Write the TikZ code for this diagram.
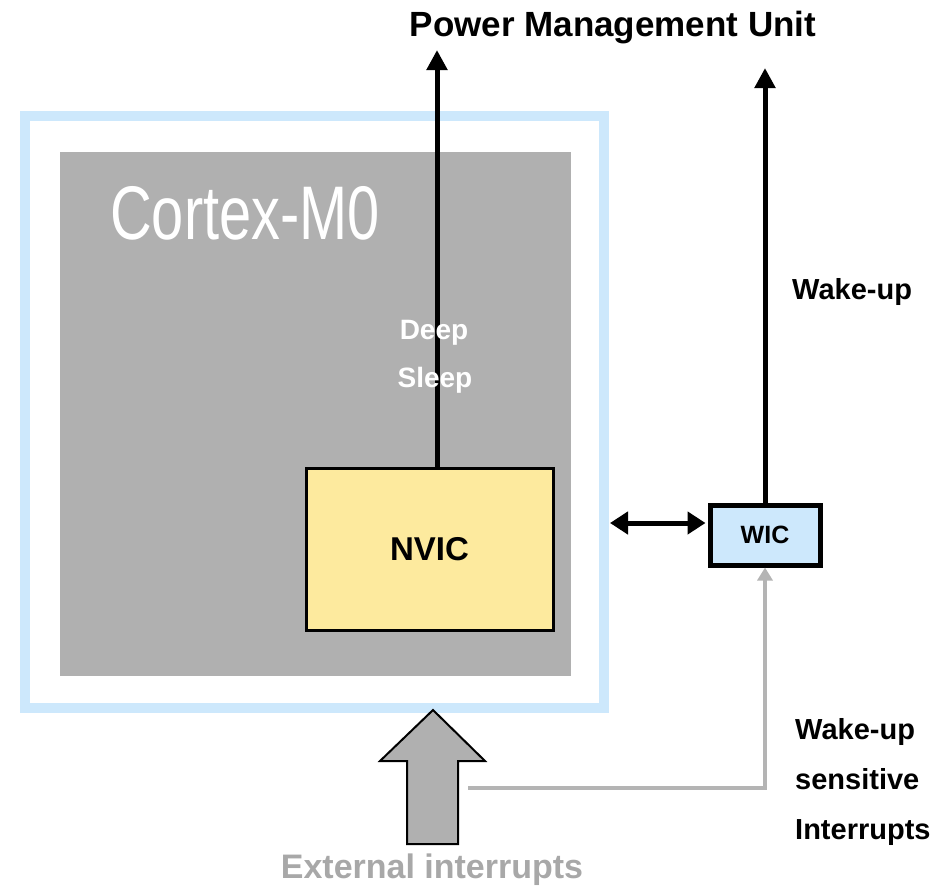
\documentclass[tikz,border=0pt]{standalone}
\usepackage{fontspec}
\setmainfont{Liberation Sans}
\usetikzlibrary{arrows.meta}
\definecolor{frameblue}{RGB}{205,232,252}
\definecolor{coregray}{RGB}{176,176,176}
\definecolor{nvicyellow}{RGB}{253,234,158}
\definecolor{textgray}{RGB}{168,168,168}
\definecolor{linegray}{RGB}{180,180,180}
\begin{document}
\begin{tikzpicture}[x=1pt,y=-1pt,
  lbl/.style={font=\bfseries\fontsize{#1}{#1}\selectfont, inner sep=0pt},
  blackline/.style={line width=5pt, -{Triangle[length=20pt,width=20pt]}},
  dblarrow/.style={line width=5pt, {Triangle[length=18pt,width=22pt]}-{Triangle[length=18pt,width=22pt]}},
  grayline/.style={draw=linegray, line width=4.5pt, -{Triangle[length=13pt,width=15pt]}}
]
\useasboundingbox (0,0) rectangle (945,892);
% outer frame
\node[draw=frameblue, line width=10pt, minimum width=579pt, minimum height=592pt, inner sep=0pt] (frame) at (314.5,412) {};
% core
\node[fill=coregray, minimum width=511pt, minimum height=524pt, inner sep=0pt] (core) at (315.5,414) {};
\node[anchor=west, text=white, inner sep=0pt] (cortex) at (110,213)
  {\scalebox{0.76}[1]{\fontsize{76}{76}\selectfont Cortex-M0}};
% NVIC
\node[draw=black, fill=nvicyellow, line width=3pt, minimum width=247pt, minimum height=162pt, inner sep=0pt,
      lbl=33] (nvic) at (429.5,549) {NVIC};
% PMU label
\node[lbl=35] (pmu) at (613,28) {Power Management Unit};
\coordinate (pmuL) at (437,50);
\coordinate (pmuR) at (765,68);
% Deep sleep line
\draw[blackline] ([xshift=7.5pt]nvic.north) -- (pmuL);
\node[lbl=28, text=white] (deep) at (434,333) {Deep};
\node[lbl=28, text=white] (sleep) at (435,380) {Sleep};
% WIC
\node[draw=black, fill=frameblue, line width=5pt, minimum width=110pt, minimum height=60pt, inner sep=0pt,
      lbl=25] (wic) at (765,535) {WIC};
\draw[blackline] (wic.north) -- (pmuR);
\node[lbl=29, anchor=west] (wakeup) at (792,292) {Wake-up};
% double arrow
\coordinate (dl) at ([yshift=12pt]wic.west);
\draw[dblarrow] ([xshift=1pt]frame.east |- dl) -- ([xshift=-2pt]dl);
% big external arrow
\draw[fill=coregray, line width=2pt, line join=miter]
  (433,710) -- (485,761) -- (458,761) -- (458,844) -- (407,844) -- (407,761) -- (380,761) -- cycle;
\coordinate (gstart) at (468,788);
\draw[grayline] (gstart) -| (wic.south);
\node[lbl=34, text=textgray] (ext) at (432,870) {External interrupts};
\node[font=\bfseries\fontsize{29}{50}\selectfont, align=left, anchor=west, inner sep=0pt] (wsi) at (795,782)
  {Wake-up\\sensitive\\Interrupts};
\end{tikzpicture}
\end{document}
